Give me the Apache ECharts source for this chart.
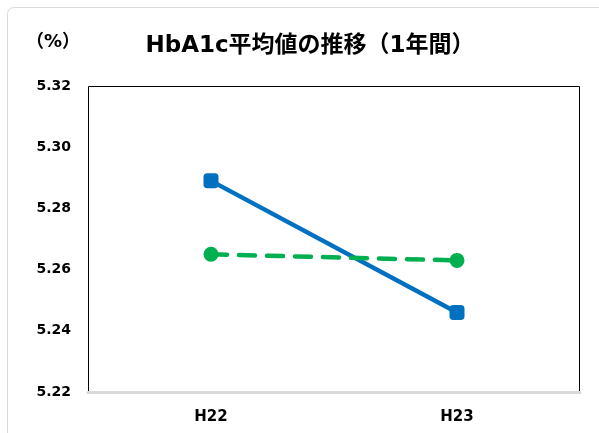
<!DOCTYPE html>
<html><head><meta charset="utf-8">
<script src="https://cdn.jsdelivr.net/npm/echarts@6/dist/echarts.min.js"></script>
<style>html,body{margin:0;padding:0;background:#fff}#c{width:599px;height:433px}</style>
</head><body><div id="c"></div>
<script>
const categories = ['H22', 'H23'];
const blueValues = [5.289, 5.246];
const greenValues = [5.265, 5.263];
const yMin = 5.22, yMax = 5.32, yStep = 0.02;

const chart = echarts.init(document.getElementById('c'));
const font = '"DejaVu Sans", "Noto Sans CJK JP", sans-serif';
chart.setOption({
  animation: false,
  backgroundColor: '#fff',
  title: {
    text: 'HbA1c平均値の推移（1年間）',
    left: 305, top: 30, textAlign: 'center',
    textStyle: { fontFamily: font, fontSize: 23, fontWeight: 'bold', color: '#000' }
  },
  graphic: [
    { type: 'rect', shape: { x: 7.5, y: 7.5, width: 620, height: 460, r: 6 },
      style: { fill: 'none', stroke: '#d9d9d9', lineWidth: 1 }, z: -1 },
    { type: 'text', left: 26, top: 33,
      style: { text: '（%）', fontFamily: font, fontSize: 18, fontWeight: 'bold', fill: '#000' } },
    { type: 'rect', shape: { x: 88.5, y: 86.5, width: 491, height: 306 },
      style: { fill: 'none', stroke: '#000', lineWidth: 1 }, z: 0 }
  ],
  grid: { left: 88, right: 19, top: 86, bottom: 41, containLabel: false },
  xAxis: {
    type: 'category', data: categories, boundaryGap: true,
    axisLine: { show: true, lineStyle: { color: '#d9d9d9', width: 3 } },
    axisTick: { show: false },
    axisLabel: { fontFamily: font, fontSize: 15, fontWeight: 'bold', color: '#000', margin: 18 },
    z: 5
  },
  yAxis: {
    type: 'value', min: yMin, max: yMax, interval: yStep,
    axisLine: { show: false }, axisTick: { show: false },
    splitLine: { show: false },
    axisLabel: { fontFamily: font, fontSize: 14, fontWeight: 'bold', color: '#000', margin: 17,
      formatter: v => v.toFixed(2) }
  },
  series: [
    { type: 'line', data: blueValues, symbol: 'roundRect', symbolSize: 15,
      lineStyle: { color: '#0070C0', width: 4.5 }, itemStyle: { color: '#0070C0' }, z: 3 },
    { type: 'line', data: greenValues, symbol: 'circle', symbolSize: 15,
      lineStyle: { color: '#00B050', width: 4.5, type: [16, 12], cap: 'round' },
      itemStyle: { color: '#00B050' }, z: 4 }
  ]
});
</script></body></html>
